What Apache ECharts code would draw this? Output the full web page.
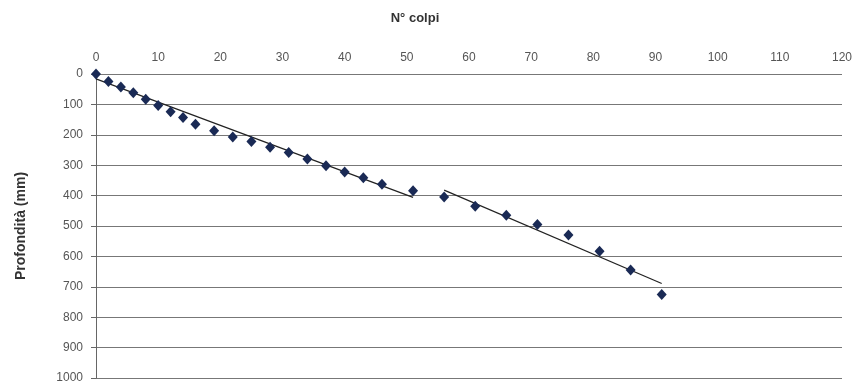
<!DOCTYPE html>
<html>
<head>
<meta charset="utf-8">
<script src="https://cdn.jsdelivr.net/npm/echarts@6/dist/echarts.min.js"></script>
<style>
  html, body { margin: 0; padding: 0; background: #fff; }
  #chart { width: 857px; height: 385px; }
</style>
</head>
<body>
<div id="chart"></div>
<script>
(function () {
    // N° colpi (blows) and depth in mm
    const colpi = [0, 2, 4, 6, 8, 10, 12, 14, 16, 19, 22, 25, 28, 31, 34, 37, 40, 43, 46, 51,
        56, 61, 66, 71, 76, 81, 86, 91];
    const profondita = [0, 25, 43, 62, 83, 104, 124, 143, 165, 187, 207, 222, 241, 258, 280, 302, 322, 341, 363, 384,
        405, 435, 465, 495, 530, 583, 645, 725];

    // trend lines, end points
    const trend1X = [0, 51];
    const trend1Y = [16, 406];
    const trend2X = [56, 91];
    const trend2Y = [382, 689];

    const pairs = (xs, ys) => xs.map((x, i) => [x, ys[i]]);

    const option = {
        backgroundColor: '#fff',
        animation: false,
        title: {
            text: 'N° colpi',
            left: 410,
            top: 7,
            textAlign: 'center',
            textStyle: {
                fontFamily: 'Liberation Sans',
                fontWeight: 'bold',
                fontSize: 13,
                color: '#333'
            }
        },
        grid: {
            left: 96,
            right: 15,
            top: 74,
            bottom: 7
        },
        xAxis: {
            type: 'value',
            position: 'top',
            min: 0,
            max: 120,
            interval: 10,
            axisLine: { show: false },
            axisTick: { show: false },
            axisLabel: {
                fontFamily: 'Liberation Sans',
                fontSize: 12,
                color: '#555',
                margin: 10
            },
            splitLine: { show: false }
        },
        yAxis: {
            type: 'value',
            inverse: true,
            min: 0,
            max: 1000,
            interval: 100,
            name: 'Profondità (mm)',
            nameLocation: 'middle',
            nameGap: 68,
            nameTextStyle: {
                fontFamily: 'Liberation Sans',
                fontWeight: 'bold',
                fontSize: 14,
                color: '#333'
            },
            axisLine: { show: true, lineStyle: { color: '#666', width: 1 } },
            axisTick: { show: true, length: 5, lineStyle: { color: '#666' } },
            axisLabel: {
                fontFamily: 'Liberation Sans',
                fontSize: 12,
                color: '#555',
                margin: 13,
                formatter: (v) => String(v)
            },
            splitLine: { show: true, lineStyle: { color: '#777', width: 1 } }
        },
        series: [
            {
                type: 'line',
                data: pairs(trend1X, trend1Y),
                showSymbol: false,
                lineStyle: { color: '#222', width: 1.2 },
                z: 3
            },
            {
                type: 'line',
                data: pairs(trend2X, trend2Y),
                showSymbol: false,
                lineStyle: { color: '#222', width: 1.2 },
                z: 3
            },
            {
                type: 'scatter',
                data: pairs(colpi, profondita),
                symbol: 'diamond',
                symbolSize: [10, 11],
                itemStyle: { color: '#1a2a55', opacity: 1 },
                z: 4
            }
        ]
    };

    const myChart = echarts.init(document.getElementById('chart'));
    myChart.setOption(option);
}());
</script>
</body>
</html>
